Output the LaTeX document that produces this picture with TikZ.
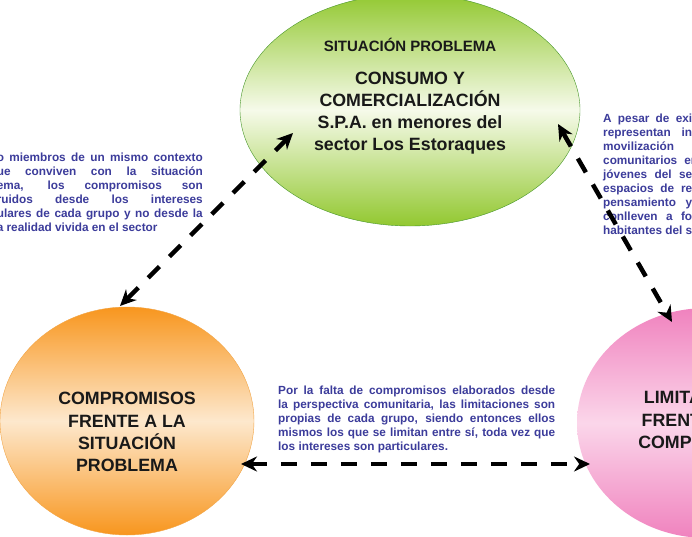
\documentclass[tikz,border=0pt]{standalone}
\usepackage{fontspec}
\setmainfont{Liberation Sans}
\usetikzlibrary{shapes.geometric,arrows.meta}
\definecolor{azulnota}{RGB}{60,60,155}
\definecolor{verdeA}{RGB}{146,200,48}
\definecolor{verdeB}{RGB}{246,250,234}
\definecolor{verdeC}{RGB}{70,150,40}
\definecolor{naranjaA}{RGB}{248,150,30}
\definecolor{naranjaB}{RGB}{253,232,205}
\definecolor{naranjaC}{RGB}{242,165,70}
\definecolor{rosaA}{RGB}{240,130,190}
\definecolor{rosaB}{RGB}{251,214,234}
\newcommand{\renglon}[1]{\makebox[\hsize][s]{#1}\\}

\begin{document}
\begin{tikzpicture}[x=1pt,y=-1pt,
  elipse/.style={ellipse,inner sep=0pt},
  flecha/.style={line width=4.5pt,dash pattern=on 16pt off 14pt,
    {Stealth[length=16pt,width=15pt]}-{Stealth[length=16pt,width=15pt]}},
  titulo/.style={font=\bfseries\fontsize{17.8}{22.2}\selectfont,text=black!90,align=center,inner sep=0pt},
  nota/.style={font=\bfseries\fontsize{11.8}{14}\selectfont,text=azulnota,align=justify,inner sep=0pt}]
\useasboundingbox (0,0) rectangle (692,537);
\clip (0,0) rectangle (692,537);
\fill[white] (0,0) rectangle (692,537);

\node[elipse,draw=verdeC,top color=verdeA,bottom color=verdeA,middle color=verdeB,
  minimum width=340pt,minimum height=232pt] (sit) at (410,110) {};
\node[elipse,draw=naranjaC,top color=naranjaA,bottom color=naranjaA,middle color=naranjaB,
  minimum width=254pt,minimum height=228pt] (comp) at (127,421) {};
\node[elipse,top color=rosaA,bottom color=rosaA,middle color=rosaB,
  minimum width=260pt,minimum height=230pt] (lim) at (707,423) {};

\node[font=\bfseries\fontsize{15}{17}\selectfont,text=black!90] (t0) at (410,45) {SITUACIÓN PROBLEMA};
\node[titulo] (t1) at (410,113) {CONSUMO Y\\COMERCIALIZACIÓN\\S.P.A. en menores del\\sector Los Estoraques};
\node[titulo] (t2) at (127,432) {COMPROMISOS\\FRENTE A LA\\SITUACIÓN\\PROBLEMA};
\node[titulo] (t3) at (707,420) {LIMITACIONES\\FRENTE A LOS\\COMPROMISOS};

\node[nota,text width=206pt,anchor=base east] (n1) at (203,162) {%
\renglon{o miembros de un mismo contexto}
\renglon{ue conviven con la situación}
\renglon{ema, los compromisos son}
\renglon{ruidos desde los intereses}
\renglon{ulares de cada grupo y no desde la}
a realidad vivida en el sector};
\node[nota,text width=89pt,anchor=base west] (n2) at (603,123) {%
\renglon{A pesar de exi}
\renglon{representan in}
movilización\\
\makebox[\hsize][l]{comunitarios\hspace{7pt}en}\\
\renglon{jóvenes del se}
\renglon{espacios de re}
\renglon{pensamiento y}
\renglon{conlleven a fo}
\renglon{habitantes del s}};
\node[nota,text width=277pt,anchor=base west] (n3) at (278,394) {%
\renglon{Por la falta de compromisos elaborados desde}
\renglon{la perspectiva comunitaria, las limitaciones son}
\renglon{propias de cada grupo, siendo entonces ellos}
\renglon{mismos los que se limitan entre sí, toda vez que}
los intereses son particulares.};

\coordinate (a1) at (120,306);
\coordinate (a2) at (293,133);
\coordinate (b1) at (558,124);
\coordinate (b2) at (672,322);
\coordinate (c1) at (241,464);
\coordinate (c2) at (590,464);
\draw[flecha] (a1) -- (a2);
\draw[flecha] (b1) -- (b2);
\draw[flecha] (c1) -- (c2);
\end{tikzpicture}
\end{document}
